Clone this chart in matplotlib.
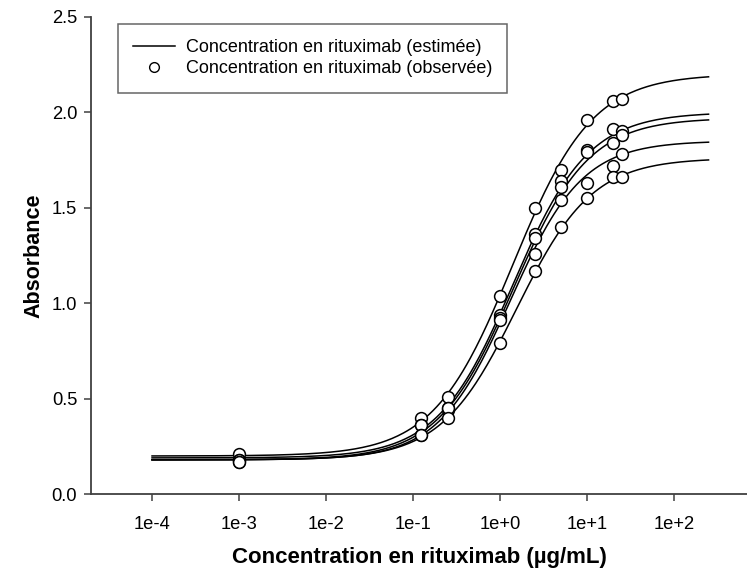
import numpy as np
import matplotlib
matplotlib.use("Agg")
import matplotlib.pyplot as plt
from matplotlib.lines import Line2D
from matplotlib.ticker import FixedLocator, FuncFormatter

plt.rcParams['font.family'] = ['Liberation Sans', 'DejaVu Sans']

# observed concentrations (µg/mL)
conc = [0.001, 0.125, 0.25, 1.0, 2.5, 5.0, 10.0, 20.0, 25.0]

# observed absorbance, one list per replicate curve
obs_a = [0.21, 0.40, 0.51, 1.04, 1.50, 1.70, 1.96, 2.06, 2.07]
obs_b = [0.18, 0.36, 0.45, 0.94, 1.36, 1.64, 1.80, 1.91, 1.90]
obs_c = [0.18, 0.36, 0.44, 0.92, 1.34, 1.61, 1.79, 1.84, 1.88]
obs_d = [0.17, 0.31, 0.45, 0.91, 1.26, 1.54, 1.63, 1.72, 1.78]
obs_e = [0.17, 0.31, 0.40, 0.79, 1.17, 1.40, 1.55, 1.66, 1.66]
observed = [obs_a, obs_b, obs_c, obs_d, obs_e]

# 4-parameter logistic fit parameters
fit_bottom = [0.20, 0.19, 0.18, 0.18, 0.18]
fit_top = [2.20, 2.00, 1.97, 1.85, 1.76]
fit_ec50 = [1.40, 1.40, 1.42, 1.32, 1.55]
fit_slope = [0.95, 1.00, 1.00, 1.05, 1.00]

x_ticks = [1e-4, 1e-3, 1e-2, 1e-1, 1e0, 1e1, 1e2]
x_tick_labels = ['1e-4', '1e-3', '1e-2', '1e-1', '1e+0', '1e+1', '1e+2']
y_ticks = [0.0, 0.5, 1.0, 1.5, 2.0, 2.5]

curve_range = (1e-4, 250)


def logistic(x, bottom, top, ec50, slope):
	return bottom + (top - bottom) / (1 + (ec50 / x) ** slope)


def main():
	fig = plt.figure(figsize=(7.47, 5.78), dpi=100)
	ax = fig.add_axes([0.122, 0.145, 0.878, 0.826])

	xs = np.logspace(np.log10(curve_range[0]), np.log10(curve_range[1]), 300)
	for i in range(len(fit_top)):
		ys = logistic(xs, fit_bottom[i], fit_top[i], fit_ec50[i], fit_slope[i])
		ax.plot(xs, ys, color='black', lw=1.1, zorder=2)

	for vals in observed:
		ax.plot(conc, vals, ls='none', marker='o', ms=8.5, mfc='white',
			mec='black', mew=1.1, zorder=3)

	ax.set_xscale('log')
	ax.set_xlim(10 ** -4.70, 10 ** 2.84)
	ax.set_ylim(0, 2.5)
	ax.xaxis.set_major_locator(FixedLocator(x_ticks))
	ax.xaxis.set_major_formatter(FuncFormatter(lambda v, p: x_tick_labels[x_ticks.index(v)] if v in x_ticks else ''))
	ax.xaxis.set_minor_locator(FixedLocator([]))
	ax.set_yticks(y_ticks)
	ax.set_yticklabels(['%.1f' % v for v in y_ticks])

	for s in ['top', 'right']:
		ax.spines[s].set_visible(False)
	for s in ['left', 'bottom']:
		ax.spines[s].set_color('#404040')
		ax.spines[s].set_linewidth(1.3)
	ax.tick_params(direction='out', length=5, width=1.1, color='#404040',
		labelsize=13.2, pad=11)
	ax.tick_params(axis='y', pad=5)

	ax.set_xlabel('Concentration en rituximab (µg/mL)', fontsize=16, fontweight='bold', labelpad=10)
	ax.set_ylabel('Absorbance', fontsize=15.5, fontweight='bold', labelpad=5)

	handles = [
		Line2D([], [], color='black', lw=1.1),
		Line2D([], [], ls='none', marker='o', ms=7, mfc='white', mec='black', mew=1.0),
	]
	labels = ['Concentration en rituximab (estimée)', 'Concentration en rituximab (observée)']
	leg = ax.legend(handles, labels, loc='upper left', bbox_to_anchor=(0.041, 0.985),
		fontsize=13, frameon=True, fancybox=False, handlelength=2.3,
		borderpad=0.85, labelspacing=0.22, handletextpad=0.6, borderaxespad=0)
	leg.get_frame().set_edgecolor('#404040')
	leg.get_frame().set_linewidth(1.1)

	fig.savefig('out.png', dpi=100)


if __name__ == '__main__':
	main()
